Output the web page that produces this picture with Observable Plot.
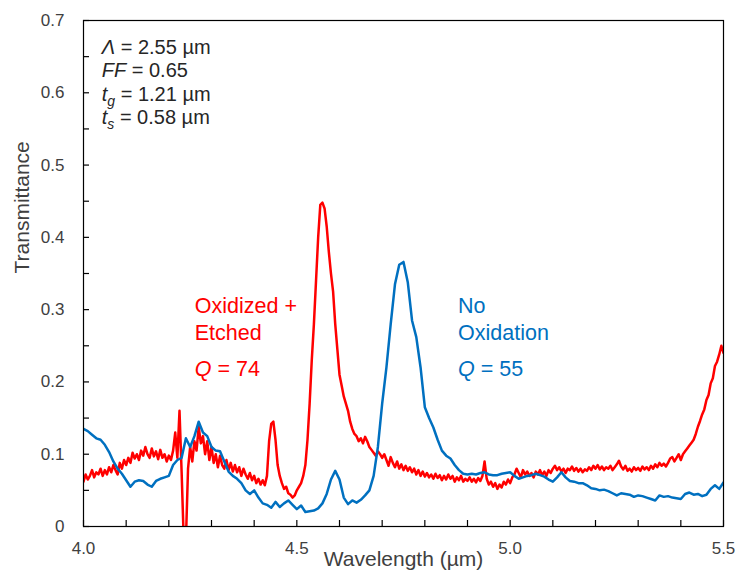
<!DOCTYPE html>
<html><head><meta charset="utf-8">
<script src="https://cdn.jsdelivr.net/npm/d3@7"></script>
<script src="https://cdn.jsdelivr.net/npm/@observablehq/plot@0.6"></script>
<style>
body{margin:0;background:#fff;}
#chart svg{font-family:"Liberation Sans",Arial,sans-serif;}
</style></head><body><div id="chart"></div>
<script>
// Oxidized + Etched: wavelength grid 4.000..5.500 step 0.005 µm
const redStart = 4.0, redStep = 0.005;
const redValues = [
0.062,0.072,0.065,0.07,0.078,0.068,0.075,0.072,0.08,0.07,0.078,0.072,0.082,0.075,0.085,0.078,0.072,0.088,0.08,0.092,0.085,
0.095,0.088,0.102,0.094,0.1,0.092,0.105,0.098,0.11,0.1,0.095,0.108,0.097,0.104,0.093,0.106,0.095,0.1,0.09,0.098,
0.092,0.105,0.13,0.095,0.16,0.075,-0.02,-0.02,0.08,0.11,0.09,0.118,0.105,0.138,0.115,0.125,0.1,0.118,0.092,0.11,
0.088,0.1,0.082,0.098,0.085,0.08,0.092,0.078,0.088,0.076,0.085,0.075,0.082,0.07,0.08,0.072,0.066,0.074,0.064,0.07,
0.06,0.066,0.058,0.064,0.057,0.07,0.118,0.142,0.145,0.12,0.085,0.07,0.06,0.052,0.055,0.046,0.044,0.04,0.043,0.05,
0.055,0.06,0.07,0.085,0.12,0.17,0.23,0.28,0.34,0.4,0.445,0.448,0.44,0.415,0.38,0.35,0.325,0.28,0.245,0.21,
0.195,0.18,0.17,0.16,0.145,0.135,0.128,0.125,0.118,0.122,0.115,0.124,0.118,0.11,0.106,0.102,0.098,0.104,0.1,0.095,
0.1,0.092,0.084,0.096,0.088,0.082,0.09,0.08,0.086,0.078,0.084,0.077,0.082,0.075,0.08,0.072,0.078,0.07,0.076,0.069,
0.074,0.068,0.072,0.066,0.073,0.067,0.071,0.064,0.07,0.065,0.072,0.066,0.07,0.062,0.068,0.064,0.07,0.062,0.066,0.063,
0.068,0.062,0.066,0.061,0.067,0.063,0.07,0.09,0.066,0.058,0.062,0.055,0.06,0.052,0.058,0.054,0.062,0.058,0.065,0.06,
0.068,0.072,0.08,0.074,0.068,0.078,0.072,0.076,0.07,0.074,0.068,0.076,0.072,0.078,0.071,0.076,0.07,0.078,0.074,0.08,
0.084,0.078,0.082,0.076,0.08,0.074,0.08,0.078,0.083,0.077,0.081,0.076,0.08,0.075,0.079,0.077,0.082,0.078,0.084,0.08,
0.085,0.079,0.083,0.078,0.082,0.08,0.084,0.078,0.082,0.086,0.091,0.083,0.079,0.084,0.077,0.08,0.076,0.082,0.078,0.081,
0.077,0.083,0.079,0.082,0.078,0.084,0.08,0.086,0.082,0.088,0.084,0.087,0.083,0.088,0.094,0.096,0.09,0.095,0.1,0.092,
0.1,0.104,0.108,0.112,0.116,0.12,0.128,0.138,0.146,0.155,0.162,0.175,0.182,0.198,0.205,0.222,0.228,0.238,0.25,0.24
];
// No Oxidation: wavelength grid 4.00..5.50 step 0.01 µm
const blueStart = 4.0, blueStep = 0.01;
const blueValues = [
0.135,0.132,0.127,0.122,0.12,0.113,0.103,0.09,0.08,0.073,
0.064,0.055,0.062,0.064,0.063,0.058,0.055,0.063,0.066,0.068,
0.07,0.085,0.092,0.095,0.122,0.11,0.125,0.145,0.13,0.125,
0.11,0.105,0.104,0.09,0.076,0.07,0.066,0.06,0.05,0.045,
0.05,0.04,0.032,0.03,0.026,0.034,0.027,0.032,0.036,0.03,
0.024,0.029,0.02,0.021,0.022,0.025,0.032,0.045,0.065,0.077,
0.065,0.04,0.031,0.036,0.033,0.037,0.043,0.05,0.07,0.11,
0.17,0.22,0.28,0.335,0.362,0.366,0.338,0.285,0.262,0.22,
0.165,0.15,0.137,0.12,0.105,0.098,0.094,0.085,0.078,0.073,
0.072,0.073,0.072,0.074,0.075,0.072,0.071,0.071,0.073,0.074,
0.075,0.07,0.066,0.068,0.07,0.071,0.073,0.071,0.069,0.065,
0.062,0.068,0.075,0.068,0.063,0.062,0.06,0.06,0.057,0.053,
0.052,0.05,0.051,0.049,0.046,0.043,0.046,0.045,0.044,0.041,
0.043,0.042,0.04,0.038,0.036,0.043,0.041,0.042,0.04,0.039,
0.038,0.045,0.047,0.044,0.045,0.042,0.044,0.052,0.057,0.052,
0.061
];
const xTickLabels = [4.0, 4.5, 5.0, 5.5];
const xMinorTicks = [4.0,4.1,4.2,4.3,4.4,4.5,4.6,4.7,4.8,4.9,5.0,5.1,5.2,5.3,5.4,5.5];
const yTickLabels = [0,0.1,0.2,0.3,0.4,0.5,0.6,0.7];
const yMinorTicks = [0,0.05,0.1,0.15,0.2,0.25,0.3,0.35,0.4,0.45,0.5,0.55,0.6,0.65,0.7];
const seriesNames = ["Oxidized + Etched", "No Oxidation"];
const seriesColors = ["#FF0000", "#0070C0"];

const red = redValues.map((t, i) => ({w: redStart + i * redStep, t, s: seriesNames[0]}));
const blue = blueValues.map((t, i) => ({w: blueStart + i * blueStep, t, s: seriesNames[1]}));

const W = 738, H = 580, mL = 83, mR = 15, mT = 20, mB = 54;
const frameW = W - mL - mR, frameH = H - mT - mB;
const tickLen = 6;
const labelColor = "#404040";

const chart = Plot.plot({
  width: W, height: H,
  marginLeft: mL, marginRight: mR, marginTop: mT, marginBottom: mB,
  style: {fontFamily: "'Liberation Sans', Arial, sans-serif", fontSize: "17px", color: labelColor, background: "#fff"},
  x: {domain: [4, 5.5]},
  y: {domain: [0, 0.7]},
  color: {domain: seriesNames, range: seriesColors},
  marks: [
    Plot.line(red, {x: "w", y: "t", stroke: "s", strokeWidth: 2.5, clip: true}),
    Plot.line(blue, {x: "w", y: "t", stroke: "s", strokeWidth: 2.5, clip: true}),
    Plot.tickX(xMinorTicks, {x: d => d, insetTop: frameH - tickLen, stroke: "#000", strokeWidth: 1.2}),
    Plot.tickY(yMinorTicks, {y: d => d, insetRight: frameW - tickLen, stroke: "#000", strokeWidth: 1.2}),
    Plot.frame({stroke: "#000", strokeWidth: 1.2}),
    Plot.axisX(xTickLabels, {tickSize: 0, tickPadding: 15, tickFormat: d => d.toFixed(1), label: null, fill: labelColor}),
    Plot.axisY(yTickLabels, {tickSize: 0, tickPadding: 19, tickFormat: d => d === 0 ? "0" : d.toFixed(1), label: null, fill: labelColor}),
    Plot.text(["Wavelength (µm)"], {text: d => d, frameAnchor: "bottom", dy: 39, fontSize: 21, fill: labelColor}),
    Plot.text(["Transmittance"], {text: d => d, frameAnchor: "left", dx: -61, rotate: -90, fontSize: 21, fill: labelColor})
  ]
});
document.getElementById("chart").appendChild(chart);

// Rich-text annotations (italics / subscripts)
const sx = chart.scale("x"), sy = chart.scale("y");
const svg = d3.select(chart);
function addText(x, y, parts, color, size) {
  const t = svg.append("text")
    .attr("x", sx.apply(x)).attr("y", sy.apply(y))
    .attr("text-anchor", "start")
    .attr("fill", color).attr("font-size", size)
    .attr("font-family", "'Liberation Sans', Arial, sans-serif");
  parts.forEach(p => {
    const ts = t.append("tspan").text(p.t);
    if (p.i) ts.attr("font-style", "italic");
    if (p.sub) ts.attr("font-size", size * 0.7).attr("dy", size * 0.25);
    if (p.after) ts.attr("dy", -size * 0.25);
  });
}
const paramColor = "#262626";
addText(4.044, 0.6533, [{t: "Λ", i: true}, {t: " = 2.55 µm"}], paramColor, 20);
addText(4.044, 0.6210, [{t: "FF", i: true}, {t: " = 0.65"}], paramColor, 20);
addText(4.044, 0.5885, [{t: "t", i: true}, {t: "g", i: true, sub: true}, {t: " = 1.21 µm", after: true}], paramColor, 20);
addText(4.044, 0.5560, [{t: "t", i: true}, {t: "s", i: true, sub: true}, {t: " = 0.58 µm", after: true}], paramColor, 20);

addText(4.262, 0.2952, [{t: "Oxidized +"}], seriesColors[0], 21.5);
addText(4.262, 0.2578, [{t: "Etched"}], seriesColors[0], 21.5);
addText(4.262, 0.2081, [{t: "Q", i: true}, {t: " = 74"}], seriesColors[0], 21.5);

addText(4.879, 0.2952, [{t: "No"}], seriesColors[1], 21.5);
addText(4.879, 0.2578, [{t: "Oxidation"}], seriesColors[1], 21.5);
addText(4.879, 0.2081, [{t: "Q", i: true}, {t: " = 55"}], seriesColors[1], 21.5);
</script></body></html>
